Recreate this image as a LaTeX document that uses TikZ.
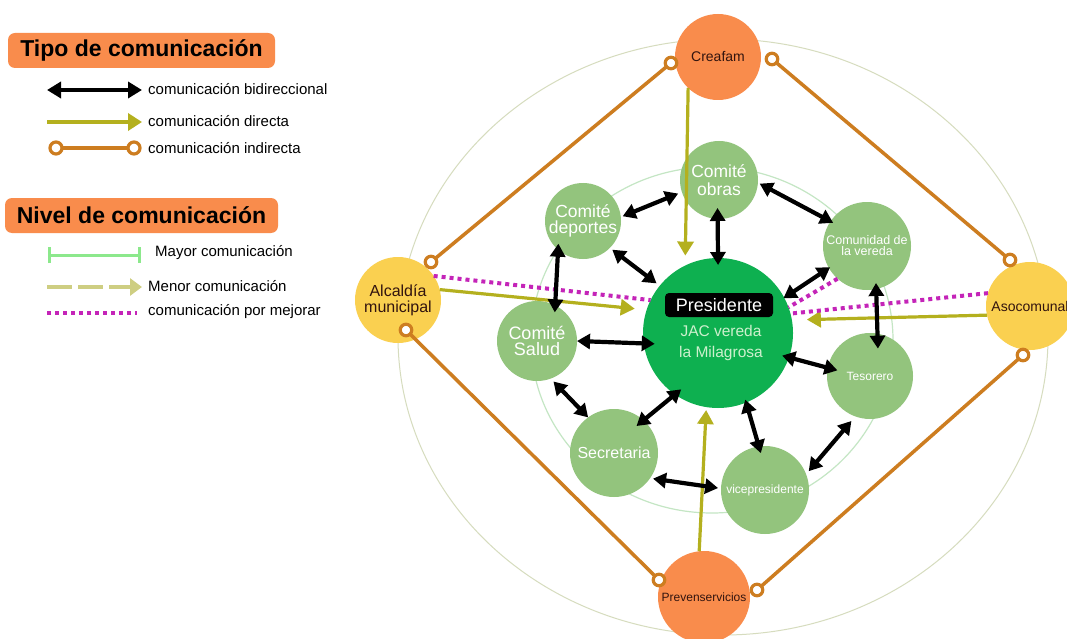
\documentclass[tikz,border=0pt]{standalone}
\usepackage{fontspec}
\setmainfont{Liberation Sans}
\usetikzlibrary{arrows.meta}
\definecolor{orangeN}{RGB}{249,140,76}
\definecolor{yellowN}{RGB}{250,208,80}
\definecolor{greenN}{RGB}{147,196,125}
\definecolor{presG}{RGB}{14,176,80}
\definecolor{oliveA}{RGB}{180,176,30}
\definecolor{ocre}{RGB}{205,125,32}
\definecolor{magentaD}{RGB}{196,36,184}
\definecolor{mayorG}{RGB}{140,232,140}
\definecolor{menorC}{RGB}{206,206,130}
\definecolor{innerG}{RGB}{196,230,196}
\definecolor{outerG}{RGB}{214,220,190}
\definecolor{darkT}{RGB}{50,20,15}
\definecolor{jacT}{RGB}{205,240,205}
\tikzset{
  gnode/.style={circle, fill=greenN, inner sep=0pt, outer sep=0pt, text=white, align=center},
  onode/.style={circle, fill=orangeN, inner sep=0pt, outer sep=0pt, text=darkT, align=center},
  ynode/.style={circle, fill=yellowN, inner sep=0pt, outer sep=0pt, text=darkT, align=center},
  bi/.style={line width=4.2pt, {Triangle[length=13pt,width=15pt]}-{Triangle[length=13pt,width=15pt]}},
  dirarrow/.style={oliveA, line width=3.2pt, -{Triangle[length=14pt,width=16pt]}},
  indline/.style={ocre, line width=3.5pt},
  ringnode/.style={circle, draw=ocre, line width=3.2pt, fill=white, minimum size=11.5pt, inner sep=0pt, outer sep=0pt},
  dotm/.style={magentaD, line width=4pt, dash pattern=on 4pt off 4pt},
  legbox/.style={fill=orangeN, rounded corners=7pt, inner sep=0pt, minimum height=35pt, font=\bfseries\fontsize{23}{25}\selectfont},
  legtext/.style={anchor=west, inner sep=0pt, font=\fontsize{15}{18}\selectfont}
}
\begin{document}
\begin{tikzpicture}[x=1pt,y=-1pt]
\useasboundingbox (0,0) rectangle (1067,639);
\fill[white] (0,0) rectangle (1067,639);
% guide ellipses
\draw[outerG, line width=1pt] (723,337) ellipse [x radius=325pt, y radius=298pt];
\draw[innerG, line width=1.2pt] (712,340) ellipse [x radius=181pt, y radius=173pt];

% nodes
\node[gnode, minimum size=78pt, font=\fontsize{17.5}{18}\selectfont] (obras) at (719,180) {Comité\\obras};
\node[gnode, minimum size=76pt, font=\fontsize{17.5}{16.5}\selectfont] (dep) at (583,221) {Comité\\deportes};
\node[gnode, minimum size=80pt, font=\fontsize{18}{16.5}\selectfont] (sal) at (537,341) {Comité\\Salud};
\node[gnode, minimum size=88pt, font=\fontsize{16}{18}\selectfont] (sec) at (614,453) {Secretaria};
\node[gnode, minimum size=88pt, font=\fontsize{12}{14}\selectfont] (vice) at (765,490) {vicepresidente};
\node[gnode, minimum size=86pt, font=\fontsize{12}{14}\selectfont] (tes) at (870,376) {Tesorero};
\node[gnode, minimum size=88pt, font=\fontsize{12.5}{11}\selectfont] (com) at (867,246) {Comunidad de\\la vereda};
\node[circle, fill=presG, inner sep=0pt, outer sep=0pt, minimum size=150pt] (pres) at (718,333) {};
\node[fill=black, rounded corners=4pt, text=white, inner sep=0pt, minimum width=108pt, minimum height=24pt, font=\fontsize{18}{20}\selectfont] (presl) at (719,305) {Presidente};
\node[text=jacT, align=center, inner sep=0pt, font=\fontsize{15.5}{21}\selectfont] (jac) at (721,343) {JAC vereda\\la Milagrosa};

\node[onode, minimum size=86pt, font=\fontsize{14}{16}\selectfont] (crea) at (718,57) {Creafam};
\node[onode, minimum size=92pt, font=\fontsize{12}{14}\selectfont] (prev) at (704,597) {Prevenservicios};
\node[ynode, minimum size=86pt, font=\fontsize{16}{16}\selectfont] (alc) at (398,300) {Alcaldía\\municipal};
\node[ynode, minimum size=88pt, font=\fontsize{14}{16}\selectfont] (aso) at (1030,306) {Asocomunal};

% direct communication
\draw[dirarrow, shorten >=10pt] (crea.226) -- (pres.116);
\draw[dirarrow, shorten >=12pt] (alc.14) -- (pres.162);
\draw[dirarrow, shorten >=15pt] (aso.192) -- (pres.10);
\draw[dirarrow, shorten >=3pt] (prev.96) -- (pres.261);

% indirect communication
\node[ringnode] (cr1) at (671,63) {};
\node[ringnode] (cr2) at (772,59) {};
\node[ringnode] (al1) at (431,262) {};
\node[ringnode] (al2) at (406,330) {};
\node[ringnode] (as1) at (1010,260) {};
\node[ringnode] (as2) at (1023,355) {};
\node[ringnode] (pv1) at (659,580) {};
\node[ringnode] (pv2) at (757,590) {};
\draw[indline] (cr1) -- (al1);
\draw[indline] (cr2) -- (as1);
\draw[indline] (al2) -- (pv1);
\draw[indline] (as2) -- (pv2);

% to improve
\draw[dotm] (alc.34) -- (pres.154);
\draw[dotm] (aso.163) -- (pres.15);
\draw[dotm] (com.228) -- (pres.20);

% bidirectional
\draw[bi, shorten <=2pt, shorten >=4pt] (dep.6) -- (obras.198);
\draw[bi, shorten <=-11pt, shorten >=-7pt] (obras.268) -- (pres.90);
\draw[bi, shorten <=2pt, shorten >=-3pt] (obras.356) -- (com.146);
\draw[bi, shorten <=3pt, shorten >=4pt] (dep.315) -- (pres.141);
\draw[bi, shorten <=-6pt, shorten >=-7pt] (dep.229) -- (sal.63);
\draw[bi, shorten >=-11pt] (sal.0) -- (pres.188);
\draw[bi, shorten <=-1.5pt, shorten >=-1pt] (com.210) -- (pres.28);
\draw[bi, shorten <=-6pt, shorten >=-15pt] (com.282) -- (tes.80);
\draw[bi, shorten <=-7pt, shorten >=-10pt] (pres.341) -- (tes.169);
\draw[bi, shorten <=4pt] (sal.290) -- (sec.126);
\draw[bi, shorten <=-9pt, shorten >=-8pt] (sec.48) -- (pres.235);
\draw[bi, shorten <=-3pt, shorten >=-7pt] (pres.292) -- (vice.98);
\draw[bi, shorten <=3pt, shorten >=3pt] (sec.325) -- (vice.178);
\draw[bi, shorten <=4pt, shorten >=6pt] (vice.21) -- (tes.250);

% legend
\node[legbox, minimum width=267pt] (tipo) at (141.5,50.5) {Tipo de comunicación};
\node[legbox, minimum width=273pt] (nivel) at (141.5,215.5) {Nivel de comunicación};

\coordinate (lb1) at (47,90); \coordinate (lb2) at (142,90);
\draw[line width=3.8pt, {Triangle[length=14pt,width=16pt]}-{Triangle[length=14pt,width=16pt]}] (lb1) -- (lb2);
\node[legtext] (tb) at (148,89) {comunicación bidireccional};

\coordinate (ld1) at (47,122); \coordinate (ld2) at (142,122);
\draw[oliveA, line width=3.5pt, -{Triangle[length=14pt,width=17pt]}] (ld1) -- (ld2);
\node[legtext] (td) at (148,121) {comunicación directa};

\node[ringnode, minimum size=12pt] (li1) at (56,148) {};
\node[ringnode, minimum size=12pt] (li2) at (134,148) {};
\draw[indline] (li1) -- (li2);
\node[legtext] (ti) at (148,148) {comunicación indirecta};

\coordinate (lm1) at (48,255); \coordinate (lm2) at (141,255);
\draw[mayorG, line width=3pt, {Bar[width=16pt]}-{Bar[width=16pt]}] (lm1) -- (lm2);
\node[legtext] (tm) at (155,253) {Mayor comunicación};

\coordinate (ln1) at (47,287); \coordinate (ln2) at (142,287);
\draw[menorC, line width=4pt, dash pattern=on 25pt off 6pt, -{Triangle[length=12pt,width=17pt]}] (ln1) -- (ln2);
\node[legtext] (tn) at (148,286) {Menor comunicación};

\coordinate (lp1) at (47,313); \coordinate (lp2) at (137,313);
\draw[dotm] (lp1) -- (lp2);
\node[legtext] (tp) at (148,312) {comunicación por mejorar};
\end{tikzpicture}
\end{document}
